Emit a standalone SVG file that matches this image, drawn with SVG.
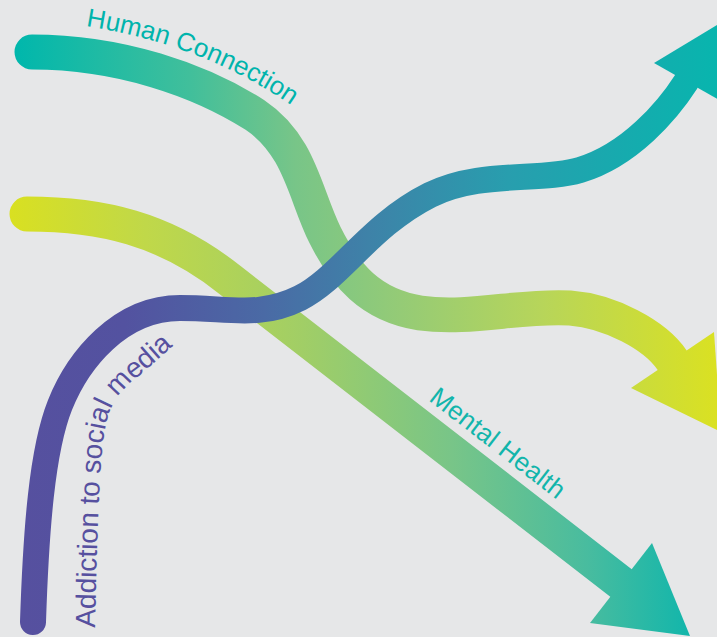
<svg xmlns="http://www.w3.org/2000/svg" width="717" height="637" viewBox="0 0 717 637">
  <defs>
    <style>
      .band { fill: none; stroke-linecap: round; stroke-linejoin: round; }
      .label { font-family: "Liberation Sans", Arial, Helvetica, sans-serif; font-size: 26px; }
      .label-large { font-size: 28px; }
    </style>
    <!-- Human Connection: teal to yellow -->
    <linearGradient id="gradHuman" gradientUnits="userSpaceOnUse" x1="15" y1="0" x2="717" y2="0">
      <stop offset="0" stop-color="#00b7ac"/>
      <stop offset="0.25" stop-color="#41bf9b"/>
      <stop offset="0.4" stop-color="#78c588"/>
      <stop offset="0.55" stop-color="#95cb76"/>
      <stop offset="0.75" stop-color="#b7d55a"/>
      <stop offset="1" stop-color="#dae122"/>
    </linearGradient>
    <!-- Mental Health: yellow to teal -->
    <linearGradient id="gradMental" gradientUnits="userSpaceOnUse" x1="10" y1="0" x2="690" y2="0">
      <stop offset="0" stop-color="#d9e021"/>
      <stop offset="0.2" stop-color="#c0d849"/>
      <stop offset="0.43" stop-color="#a1ce66"/>
      <stop offset="0.65" stop-color="#78c588"/>
      <stop offset="0.85" stop-color="#48bc9f"/>
      <stop offset="1" stop-color="#12b6ab"/>
    </linearGradient>
    <!-- Addiction: purple to teal -->
    <linearGradient id="gradAddiction" gradientUnits="userSpaceOnUse" x1="20" y1="0" x2="717" y2="0">
      <stop offset="0" stop-color="#56509f"/>
      <stop offset="0.15" stop-color="#5352a0"/>
      <stop offset="0.35" stop-color="#4a6aa5"/>
      <stop offset="0.5" stop-color="#3e82a8"/>
      <stop offset="0.7" stop-color="#289eae"/>
      <stop offset="1" stop-color="#08b5ae"/>
    </linearGradient>
    <!-- baselines for the curved labels -->
    <path id="baseHuman" d="M86,26 C150,36 230,60 302,113"/>
    <path id="baseMental" d="M428,400 L580,517.6"/>
    <path id="baseAddiction" d="M95,628 C97,540 99,470 104,435 C108,405 120,390 140,375 L190,331"/>
  </defs>

  <rect width="717" height="637" fill="#e6e7e8"/>

  <g id="connectors">
    <!-- Mental Health: falls steadily -->
    <g id="mental-health">
      <path class="band" stroke="url(#gradMental)" stroke-width="35" d="M27,214 C100,214 165,228 230,280 L621,583"/>
      <path stroke="none" fill="url(#gradMental)" d="M652,543 L590,623 L690,636 Z"/>
    </g>
    <!-- Human Connection: drops, then levels -->
    <g id="human-connection">
      <path class="band" stroke="url(#gradHuman)" stroke-width="35" d="M32,52 C120,52 200,80 255,115 C300,145 305,195 325,235 C345,275 370,305 420,313 C470,320 520,305 570,308 C610,311 655,335 672,360"/>
      <path stroke="none" fill="url(#gradHuman)" d="M714,332 L631,388 L721,432 Z"/>
    </g>
    <!-- Addiction to social media: rises -->
    <g id="addiction">
      <path class="band" stroke="url(#gradAddiction)" stroke-width="26" d="M33,622 C36,530 42,450 60,405 C78,360 120,308 180,308 C230,308 260,318 300,298 C340,278 370,225 430,195 C480,170 540,182 580,170 C630,155 668,110 686,82"/>
      <path stroke="none" fill="url(#gradAddiction)" d="M654,63 L719,100 L722,22 Z"/>
    </g>
  </g>

  <g id="labels">
    <g id="label-human">
      <text class="label" fill="#00b4ac"><textPath href="#baseHuman" textLength="222" lengthAdjust="spacing">Human Connection</textPath></text>
    </g>
    <g id="label-mental">
      <text class="label" fill="#12b5ab"><textPath href="#baseMental" textLength="163" lengthAdjust="spacing">Mental Health</textPath></text>
    </g>
    <g id="label-addiction">
      <text class="label label-large" fill="#56509f"><textPath href="#baseAddiction">Addiction to social media</textPath></text>
    </g>
  </g>
</svg>
